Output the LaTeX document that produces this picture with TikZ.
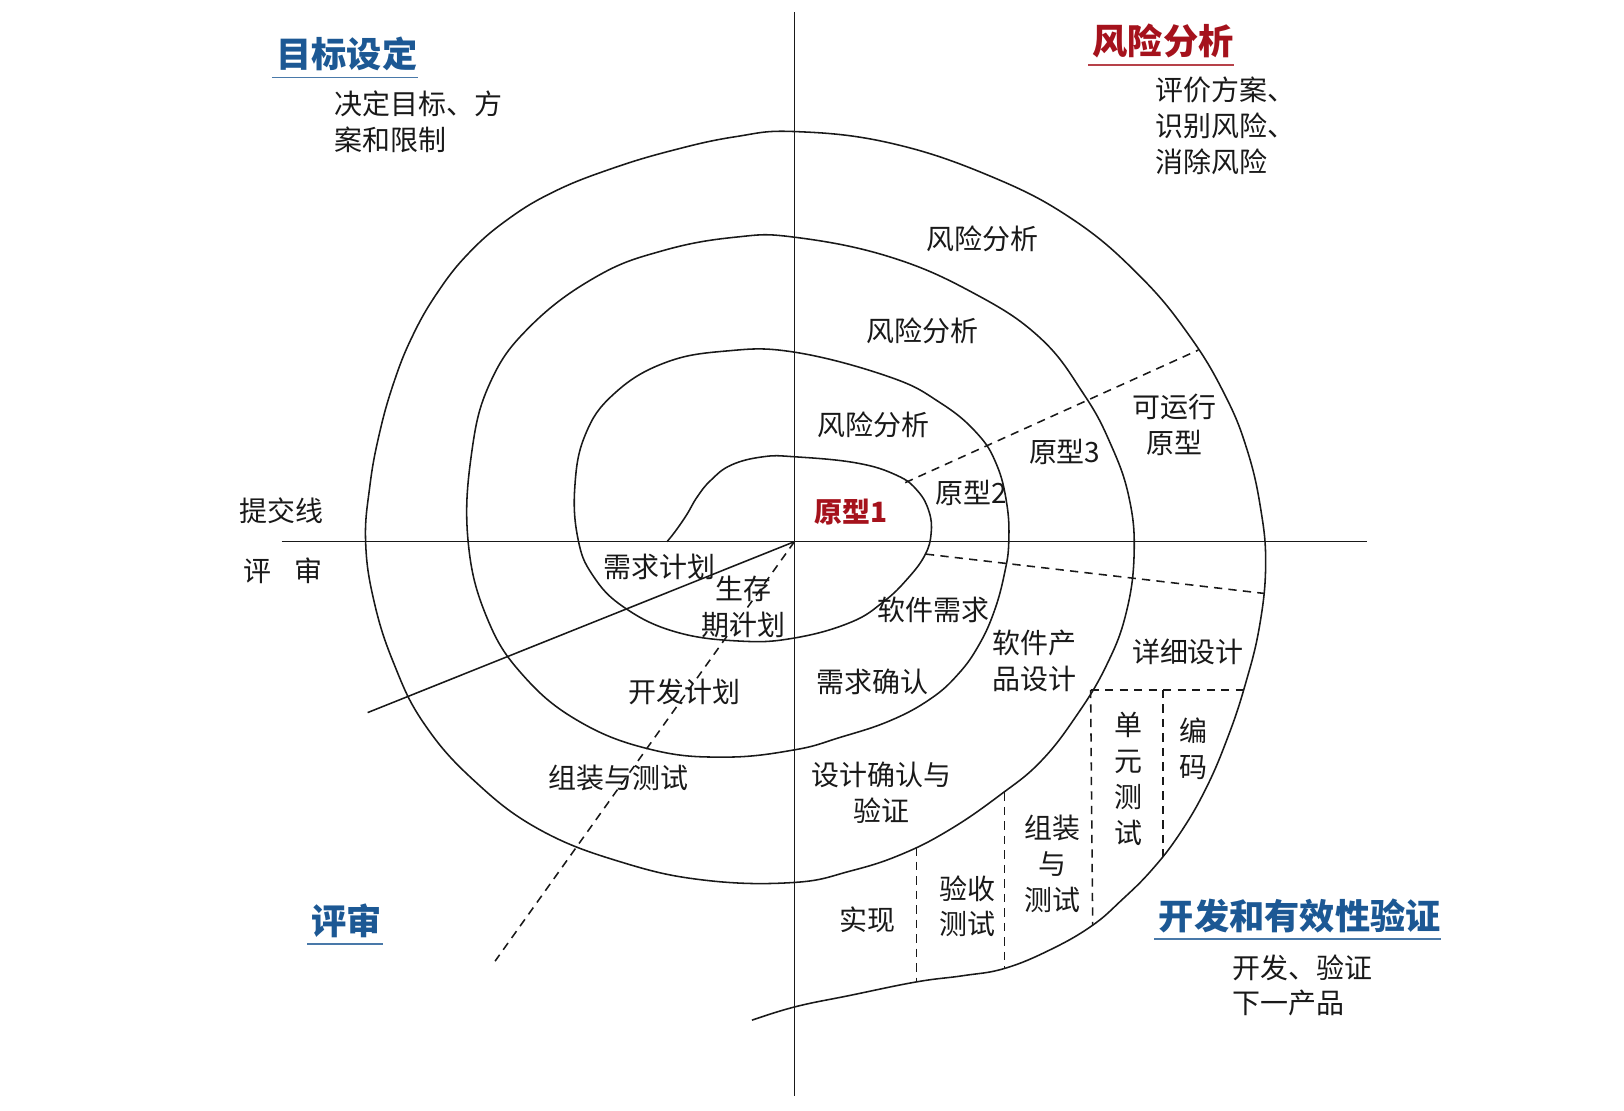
\documentclass[tikz,border=0pt]{standalone}
\usepackage{fontspec}
\setmainfont{Noto Sans CJK SC}
\definecolor{tblue}{RGB}{28,88,148}
\definecolor{tred}{RGB}{165,18,28}
\definecolor{ink}{RGB}{25,25,25}
\begin{document}
\begin{tikzpicture}[x=0.5pt,y=-0.5pt,
  lbl/.style={inner sep=0pt, text=ink, font=\fontsize{13.5pt}{17.3pt}\selectfont, align=center},
  lbll/.style={lbl, align=left},
  ttl/.style={inner sep=0pt, font=\fontsize{17pt}{20pt}\selectfont\bfseries},
  curve/.style={line width=0.75pt, ink},
  dline/.style={line width=0.75pt, ink, dash pattern=on 4pt off 3pt},
  uline/.style={line width=0.9pt}
]
\useasboundingbox (0,0) rectangle (1568,1072);
\fill[white] (0,0) rectangle (1568,1072);

% axes
\coordinate (O) at (767,523);
\coordinate (vt) at (767,12);
\coordinate (vb) at (767,1058);
\coordinate (hl) at (272,523);
\coordinate (hr) at (1320,523);
\draw[curve] (vt) -- (vb);
\draw[curve] (hl) -- (hr);

% spiral
\draw[curve] plot[smooth, tension=0.7] coordinates {
 (644,523) (652,513) (663,497) (673,480) (686,464) (706,449) (737,441)
 (767,441) (827,447) (866,459) (886,474) (897,494) (899,515) (893,536)
 (876,559) (853,581) (821,601) (767,616) (715,619) (652,610) (602,586)
 (572,555) (558,520) (555,470) (565,420) (592,381) (640,351) (700,339)
 (767,340) (859,364) (908,389) (943,418) (962,448) (972,486) (974,523)
 (970,553) (960,590) (945,623) (925,651) (898,675) (859,696) (811,712)
 (767,724) (700,731) (630,724) (560,697) (505,652) (470,596) (452,523)
 (455,440) (473,370) (512,315) (576,267) (640,242) (710,229) (767,229)
 (859,248) (940,283) (1004,326) (1046,380) (1072,428) (1090,480)
 (1095,535) (1087,593) (1068,643) (1040,690) (1005,735) (965,768)
 (917,801) (870,825) (821,841) (767,852) (682,850) (602,833) (521,801)
 (457,753) (409,698) (380,640) (361,580) (353,523) (357,470) (366,420)
 (380,370) (398,325) (422,283) (452,245) (490,212) (535,185) (590,163)
 (650,145) (710,132) (767,127) (859,138) (956,170) (1036,212) (1101,267)
 (1149,325) (1183,382) (1204,434) (1217,490) (1222,545) (1216,605)
 (1202,662) (1185,713) (1164,762) (1139,805) (1112,840) (1083,869)
 (1054,894) (1014,917) (970,935) (930,942) (885,948) (821,961)
 (768,972) (726,985)};

% radial lines
\coordinate (sl) at (355,688);
\coordinate (dl) at (478,928);
\draw[curve] (O) -- (sl);
\draw[dline] (O) -- (dl);
\coordinate (d1a) at (874,466);
\coordinate (d1b) at (1157,338);
\draw[dline] (d1a) -- (d1b);
\coordinate (d2a) at (894,535);
\coordinate (d2b) at (1221,573);
\draw[dline] (d2a) -- (d2b);
% cells
\coordinate (h1) at (1053,666);
\coordinate (h2) at (1123,666);
\coordinate (h3) at (1201,666);
\draw[dline] (h1) -- (h3);
\coordinate (v1b) at (1055,893);
\coordinate (v2b) at (1123,827);
\draw[dline] (h1) -- (v1b);
\draw[dline] (h2) -- (v2b);
\coordinate (v3a) at (970,765);
\coordinate (v3b) at (970,935);
\coordinate (v4a) at (885,818);
\coordinate (v4b) at (885,948);
\draw[dline] (v3a) -- (v3b);
\draw[dline] (v4a) -- (v4b);

% titles
\node[ttl, text=tblue] (t1) at (335,52) {目标设定};
\draw[uline, tblue!80] ([yshift=-3pt,xshift=-2pt]t1.south west) -- ([yshift=-3pt]t1.south east);
\node[ttl, text=tred] (t2) at (1123,40) {风险分析};
\draw[uline, tred!80] ([yshift=-3pt,xshift=-2pt]t2.south west) -- ([yshift=-3pt]t2.south east);
\node[ttl, text=tblue] (t3) at (335,889) {评审};
\draw[uline, tblue!80] ([yshift=-3pt,xshift=-2pt]t3.south west) -- ([yshift=-3pt]t3.south east);
\node[ttl, text=tblue] (t4) at (1255,884) {开发和有效性验证};
\draw[uline, tblue!80] ([yshift=-3pt,xshift=-2pt]t4.south west) -- ([yshift=-3pt]t4.south east);

% descriptions
\node[lbll, anchor=north west] (d1) at (323,87) {决定目标、方\\案和限制};
\node[lbll, anchor=north west] (d2) at (1115,74) {评价方案、\\识别风险、\\消除风险};
\node[lbll, anchor=north west] (d3) at (1190,921) {开发、验证\\下一产品};

% left labels
\node[lbl] (l1) at (272,493) {提交线};
\node[lbl] (l2) at (273,551) {评\hspace{11pt}审};

% quadrant labels
\node[lbl] (r1) at (949,231) {风险分析};
\node[lbl] (r2) at (891,319) {风险分析};
\node[lbl] (r3) at (843,410) {风险分析};
\node[lbl] (p4) at (1134,410) {可运行\\原型};
\node[lbl] (p3) at (1028,436) {原型3};
\node[lbl] (p2) at (938,476) {原型2};
\node[lbl, text=tred, font=\fontsize{13.5pt}{17pt}\selectfont\bfseries] (p1) at (822,494) {原型1};

\node[lbl] (q1) at (637,547) {需求计划};
\node[lbl] (q2) at (718,586) {生存\\期计划};
\node[lbl] (q3) at (661,668) {开发计划};
\node[lbl] (q4) at (597,751) {组装与测试};

\node[lbl] (s1) at (901,589) {软件需求};
\node[lbl] (s2) at (999,638) {软件产\\品设计};
\node[lbl] (s3) at (1147,629) {详细设计};
\node[lbl] (s4) at (842,658) {需求确认};
\node[lbl] (s5) at (851,765) {设计确认与\\验证};
\node[lbl, font=\fontsize{13.5pt}{17.5pt}\selectfont] (s6) at (1090,752) {单\\元\\测\\试};
\node[lbl, font=\fontsize{13.5pt}{17pt}\selectfont] (s7) at (1152,723) {编\\码};
\node[lbl] (s8) at (1016,834) {组装\\与\\测试};
\node[lbl] (s9) at (934,875) {验收\\测试};
\node[lbl] (s10) at (838,888) {实现};
\end{tikzpicture}
\end{document}
